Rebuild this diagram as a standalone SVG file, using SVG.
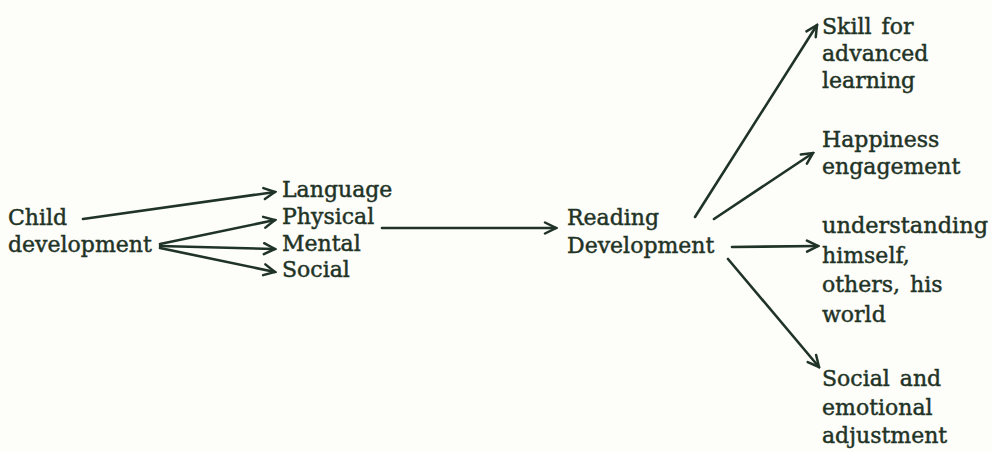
<svg xmlns="http://www.w3.org/2000/svg" width="992" height="452" viewBox="0 0 992 452">
<defs>
<style>
.t{font-family:"DejaVu Serif","Liberation Serif",serif;font-size:22px;fill:#1f3326;stroke:#1f3326;stroke-width:0.45;word-spacing:3px}
.c line{stroke:#1f3326;stroke-width:2.6;fill:none;stroke-linecap:round;marker-end:url(#ah)}
</style>
<marker id="ah" markerUnits="userSpaceOnUse" markerWidth="16" markerHeight="16" viewBox="0 0 16 16" refX="14" refY="8" orient="auto">
<path d="M3,2.5 L14,8 L3,13.5" fill="none" stroke="#1f3326" stroke-width="2.5" stroke-linecap="round" stroke-linejoin="miter"/>
</marker>
</defs>
<rect width="992" height="452" fill="#fdfdf9"/>
<g class="c" id="connectors">
<line x1="83" y1="219" x2="275" y2="192"/>
<line x1="160" y1="244" x2="275" y2="220"/>
<line x1="160" y1="246" x2="275" y2="249"/>
<line x1="160" y1="248" x2="275" y2="272"/>
<line x1="382" y1="228" x2="556" y2="228"/>
<line x1="695" y1="217" x2="817" y2="25"/>
<line x1="714" y1="219" x2="813" y2="153"/>
<line x1="732" y1="247" x2="818" y2="246"/>
<line x1="728" y1="259" x2="819" y2="367"/>
</g>
<g id="child"><text class="t" x="8" y="225">Child</text><text class="t" x="8" y="252">development</text></g>
<g id="language"><text class="t" x="282" y="197">Language</text></g>
<g id="physical"><text class="t" x="282" y="224">Physical</text></g>
<g id="mental"><text class="t" x="282" y="251">Mental</text></g>
<g id="social"><text class="t" x="282" y="277">Social</text></g>
<g id="reading"><text class="t" x="567" y="225">Reading</text><text class="t" x="567" y="253">Development</text></g>
<g id="skill"><text class="t" x="822" y="34">Skill for</text><text class="t" x="822" y="61">advanced</text><text class="t" x="822" y="88">learning</text></g>
<g id="happiness"><text class="t" x="822" y="147">Happiness</text><text class="t" x="822" y="174">engagement</text></g>
<g id="understanding"><text class="t" x="822" y="233" textLength="166" lengthAdjust="spacingAndGlyphs">understanding</text><text class="t" x="822" y="263">himself,</text><text class="t" x="822" y="292">others, his</text><text class="t" x="822" y="322">world</text></g>
<g id="socialemo"><text class="t" x="822" y="386">Social and</text><text class="t" x="822" y="415">emotional</text><text class="t" x="822" y="443">adjustment</text></g>
</svg>
